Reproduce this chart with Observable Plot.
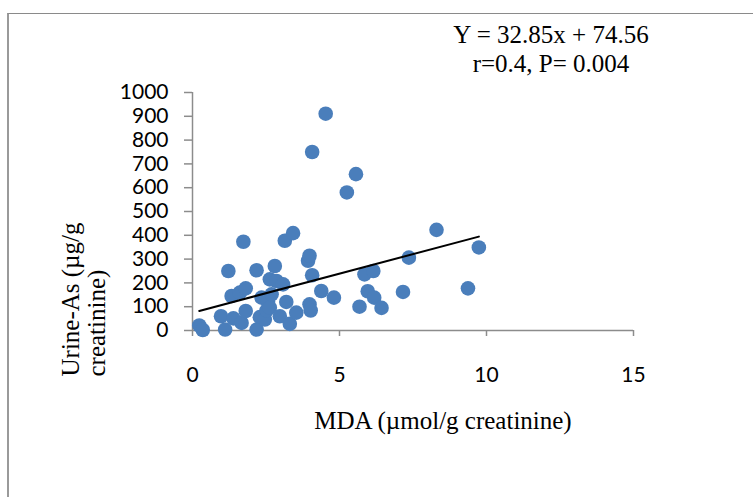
<!DOCTYPE html>
<html>
<head>
<meta charset="utf-8">
<script src="https://cdn.jsdelivr.net/npm/d3@7"></script>
<script src="https://cdn.jsdelivr.net/npm/@observablehq/plot@0.6"></script>
<style>
  html, body { margin: 0; padding: 0; background: white; }
  #wrap { position: relative; width: 753px; height: 497px; overflow: hidden; }
  #border { position: absolute; left: 7px; top: 13px; width: 2000px; height: 2000px;
            border-left: 2px solid #9a9a9a; border-top: 1px solid #8a8a8a; pointer-events: none; }
  #chart svg { display: block; }
</style>
</head>
<body>
<div id="wrap"><div id="chart"></div><div id="border"></div></div>
<script>
// MDA (µmol/g creatinine)
const mdaValues = [0.23, 0.35, 0.97, 1.11, 1.22, 1.33, 1.39, 1.61, 1.67, 1.73, 1.81, 1.81,
  2.18, 2.18, 2.29, 2.35, 2.46, 2.52, 2.57, 2.63, 2.63, 2.69, 2.80, 2.86, 2.97, 3.08, 3.14,
  3.19, 3.31, 3.42, 3.53, 3.93, 3.98, 3.98, 4.02, 4.07, 4.07, 4.38, 4.53, 4.81, 5.25, 5.56,
  5.68, 5.85, 5.96, 6.15, 6.18, 6.43, 7.16, 7.36, 8.30, 9.37, 9.74];
// Urine-As (µg/g creatinine)
const urineAs = [21, 2, 60, 4, 250, 145, 51, 159, 32, 373, 177, 82,
  253, 4, 56, 138, 46, 84, 124, 215, 96, 152, 271, 208, 60, 194, 377,
  120, 28, 409, 75, 293, 314, 110, 84, 232, 750, 166, 911, 138, 580, 657,
  100, 236, 165, 250, 138, 95, 162, 306, 423, 177, 349];

const xTicks = [0, 5, 10, 15];
const yTicks = [0, 100, 200, 300, 400, 500, 600, 700, 800, 900, 1000];

const slope = 32.85, intercept = 74.56, rValue = 0.4, pValue = 0.004;
const xTitle = "MDA (µmol/g creatinine)";
const yTitle = "Urine-As (µg/g\ncreatinine)";
const eqText = `Y = ${slope}x + ${intercept}\nr=${rValue}, P= ${pValue}`;

const points = mdaValues.map((m, i) => ({mda: m, as: urineAs[i]}));
const ext = d3.extent(mdaValues);
const fitLine = ext.map(x => ({mda: x, as: slope * x + intercept}));

const axisGray = "#8c8c8c";
const serif = "'Liberation Serif', 'Times New Roman', serif";

const chart = Plot.plot({
  width: 753,
  height: 497,
  marginLeft: 192,
  marginRight: 120,
  marginTop: 92,
  marginBottom: 167,
  x: {domain: [0, 15]},
  y: {domain: [0, 1000]},
  style: {fontFamily: "Lato, sans-serif", fontSize: "21px", background: "transparent", overflow: "visible", color: "black"},
  marks: [
    Plot.ruleY([0], {stroke: axisGray, strokeWidth: 1.5}),
    Plot.ruleX([0], {stroke: axisGray, strokeWidth: 1.5}),
    Plot.axisX(xTicks, {tickSize: 6, tickPadding: 31, stroke: axisGray, fill: "black", strokeWidth: 1.5,
      label: null, fontSize: 21, tickFormat: d => String(d)}),
    Plot.axisY(yTicks, {tickSize: 8, tickPadding: 16, stroke: axisGray, fill: "black", strokeWidth: 1.5,
      label: null, fontSize: 21, tickFormat: d => String(d)}),
    Plot.dot(points, {x: "mda", y: "as", r: 7.3, fill: "#4a7ebb", stroke: "none"}),
    Plot.line(fitLine, {x: "mda", y: "as", stroke: "black", strokeWidth: 2}),
    Plot.text([eqText], {text: d => d, frameAnchor: "top", dx: 138, dy: -21, lineAnchor: "bottom",
      lineHeight: 1.13, textAnchor: "middle", fontFamily: serif, fontSize: 25, fill: "black"}),
    Plot.text([xTitle], {text: d => d, frameAnchor: "bottom", dx: 30, dy: 98, lineAnchor: "bottom",
      textAnchor: "middle", fontFamily: serif, fontSize: 25, fill: "black"}),
    Plot.text([yTitle], {text: d => d, frameAnchor: "bottom-left", dx: -132, dy: 46, rotate: -90,
      textAnchor: "start", lineAnchor: "top", lineHeight: 1.03, fontFamily: serif, fontSize: 25, fill: "black"})
  ]
});
document.getElementById("chart").appendChild(chart);
</script>
</body>
</html>
